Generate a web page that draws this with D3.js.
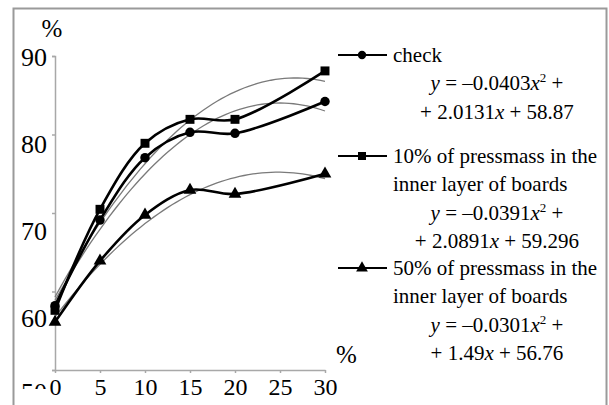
<!DOCTYPE html>
<html>
<head>
<meta charset="utf-8">
<script src="https://cdn.jsdelivr.net/npm/d3@7"></script>
</head>
<body style="margin:0">
<svg id="chart" width="609" height="405"></svg>
<script>
// data
const concentration = [0, 5, 10, 15, 20, 30];
const checkValues = [58.2, 69.1, 77.05, 80.28, 80.15, 84.2];
const press10Values = [57.6, 70.47, 78.88, 81.93, 81.93, 88.1];
const press50Values = [56.1, 63.9, 69.75, 72.93, 72.42, 75.0];

// trendline coefficients (a, b, c) as printed in the legend
const checkFit = [-0.0403, 2.0131, 58.87];
const press10Fit = [-0.0391, 2.0891, 59.296];
const press50Fit = [-0.0301, 1.49, 56.76];

const xTicks = [0, 5, 10, 15, 20, 25, 30];
const yTicks = [50, 60, 70, 80, 90];

const seriesNames = [
    ["check"],
    ["10% of pressmass in the", "inner layer of boards"],
    ["50% of pressmass in the", "inner layer of boards"]
];

const series = [
    {values: checkValues, fit: checkFit, marker: d3.symbolCircle, size: 70, legendSize: 55},
    {values: press10Values, fit: press10Fit, marker: d3.symbolSquare, size: 80, legendSize: 64},
    {values: press50Values, fit: press50Fit, marker: d3.symbolTriangle, size: 70, legendSize: 60}
];

const serif = "Liberation Serif";
const svg = d3.select("#chart");

const x = d3.scaleLinear().domain([0, 30]).range([55, 325]);
const y = d3.scaleLinear().domain([50, 90]).range([370, 56]);
// the tick labels of the figure sit on their own spacing
const yLabel = d3.scaleLinear().domain([50, 60, 90]).range([392, 318, 57]);

// outer frame
svg.append("rect")
    .attr("x", 13.5).attr("y", 8.5)
    .attr("width", 593).attr("height", 420)
    .attr("fill", "none")
    .attr("stroke", "#9a9a9a")
    .attr("stroke-width", 2);

// axes
const axisColor = "#a8a8a8";
const yAxis = svg.append("g")
    .attr("transform", "translate(55,0)")
    .call(d3.axisLeft(y).tickValues(yTicks).tickSize(3).tickFormat(""));
const xAxis = svg.append("g")
    .attr("transform", "translate(0,370)")
    .call(d3.axisBottom(x).tickValues(xTicks).tickSize(3).tickSizeOuter(0).tickFormat(""));
[yAxis, xAxis].forEach(g => {
    g.select(".domain").attr("stroke", axisColor).attr("stroke-width", 1.5);
    g.selectAll(".tick line").attr("stroke", axisColor).attr("stroke-width", 1.5);
});

// y tick labels
const yLab = svg.append("g")
    .attr("transform", "translate(47,0)")
    .call(d3.axisLeft(yLabel).tickValues(yTicks).tickSize(0).tickPadding(0));
yLab.select(".domain").remove();
yLab.selectAll("text").attr("font-size", 26).attr("fill", "#000");

// x tick labels
const xLab = svg.append("g")
    .attr("transform", "translate(0,373)")
    .call(d3.axisBottom(x).tickValues(xTicks).tickSize(0).tickPadding(5));
xLab.select(".domain").remove();
xLab.selectAll("text").attr("font-size", 24).attr("fill", "#000");

// the lowest y label is mostly hidden in the figure
svg.append("rect")
    .attr("x", 15).attr("y", 389)
    .attr("width", 32).attr("height", 16)
    .attr("fill", "#fff");

// axis units
svg.append("text").attr("x", 52).attr("y", 37)
    .attr("text-anchor", "middle").attr("font-size", 25).text("%");
svg.append("text").attr("x", 336).attr("y", 363)
    .attr("font-size", 25).text("%");

// trendlines
const fitLine = d3.line().x(d => x(d[0])).y(d => y(d[1]));
series.forEach(s => {
    const pts = d3.range(0, 30.01, 0.5).map(t => [t, s.fit[0] * t * t + s.fit[1] * t + s.fit[2]]);
    svg.append("path")
        .attr("d", fitLine(pts))
        .attr("fill", "none")
        .attr("stroke", "#7a7a7a")
        .attr("stroke-width", 1.3);
});

// data lines (smoothed, as in the spreadsheet chart)
const dataLine = d3.line()
    .x((d, i) => x(concentration[i]))
    .y(d => y(d))
    .curve(d3.curveCatmullRom.alpha(0.5));
series.forEach(s => {
    svg.append("path")
        .attr("d", dataLine(s.values))
        .attr("fill", "none")
        .attr("stroke", "#000")
        .attr("stroke-width", 2.6);
});

// markers
series.forEach(s => {
    svg.append("g").selectAll("path")
        .data(s.values)
        .join("path")
        .attr("transform", (d, i) => `translate(${x(concentration[i])},${y(d)})`)
        .attr("d", d3.symbol().type(s.marker).size(s.size))
        .attr("fill", "#000");
});

// legend
const fmtA = a => "\u2013" + Math.abs(a);
const legendTop = [62, 163, 275];
const lineH = 28.3;
series.forEach((s, k) => {
    const g = svg.append("g");
    const y0 = legendTop[k];
    g.append("line")
        .attr("x1", 338).attr("x2", 387)
        .attr("y1", y0 - 7).attr("y2", y0 - 7)
        .attr("stroke", "#000").attr("stroke-width", 2);
    g.append("path")
        .attr("transform", `translate(362,${y0 - 7})`)
        .attr("d", d3.symbol().type(s.marker).size(s.legendSize))
        .attr("fill", "#000");
    const names = seriesNames[k];
    names.forEach((n, j) => {
        g.append("text")
            .attr("x", 393).attr("y", y0 + j * lineH)
            .attr("font-size", 21)
            .text(n);
    });
    const e1 = g.append("text")
        .attr("x", 497).attr("y", y0 + names.length * lineH)
        .attr("font-size", 21)
        .attr("text-anchor", "middle");
    e1.append("tspan").attr("font-style", "italic").text("y");
    e1.append("tspan").text(" = " + fmtA(s.fit[0]));
    e1.append("tspan").attr("font-style", "italic").text("x");
    e1.append("tspan").attr("font-size", 13).attr("dy", -8).text("2");
    e1.append("tspan").attr("dy", 8).text(" +");
    const e2 = g.append("text")
        .attr("x", 497).attr("y", y0 + (names.length + 1) * lineH)
        .attr("font-size", 21)
        .attr("text-anchor", "middle");
    e2.append("tspan").text("+ " + s.fit[1]);
    e2.append("tspan").attr("font-style", "italic").text("x");
    e2.append("tspan").text(" + " + s.fit[2]);
});

// every text in the figure is set in a Times-like serif
svg.selectAll("text")
    .attr("font-family", serif)
    .style("font-family", '"Liberation Serif", "Times New Roman", serif')
    .each(function() { this.getComputedTextLength(); });
</script>
</body>
</html>
